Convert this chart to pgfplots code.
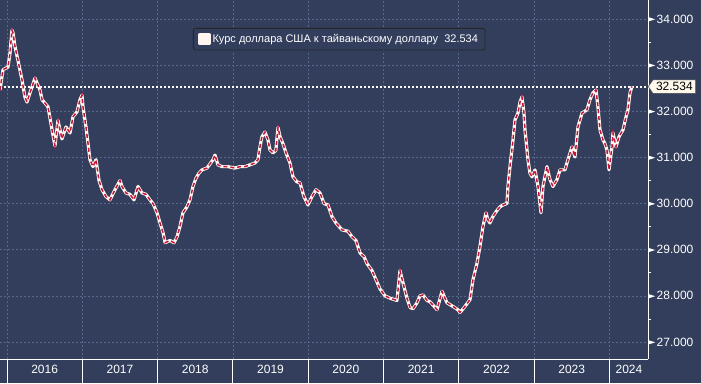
\documentclass[border=0pt]{standalone}
\usepackage{pgfplots}
\pgfplotsset{compat=1.18}
\usepackage{pgfplotstable}
\usepackage{fontspec}
\setmainfont{Liberation Sans}
\usetikzlibrary{shapes.symbols}
\definecolor{bg}{RGB}{50,62,92}
\definecolor{gridc}{RGB}{88,104,140}
\definecolor{candred}{RGB}{196,22,56}
\definecolor{candwhite}{RGB}{255,246,242}
\definecolor{tagfill}{RGB}{255,248,236}

\pgfplotstableread{
t v
2015.907 32.46
2015.947 32.90
2016.013 32.96
2016.040 33.26
2016.066 33.76
2016.080 33.70
2016.106 33.40
2016.146 33.10
2016.199 32.68
2016.239 32.30
2016.266 32.20
2016.305 32.40
2016.372 32.72
2016.438 32.46
2016.465 32.25
2016.544 32.10
2016.598 31.60
2016.637 31.25
2016.677 31.80
2016.730 31.40
2016.783 31.66
2016.837 31.53
2016.876 31.88
2016.930 31.99
2016.969 32.25
2016.996 32.35
2017.009 32.10
2017.049 31.66
2017.076 31.30
2017.102 30.95
2017.142 30.80
2017.182 30.95
2017.222 30.50
2017.262 30.30
2017.315 30.15
2017.368 30.08
2017.434 30.30
2017.501 30.50
2017.527 30.37
2017.580 30.23
2017.633 30.20
2017.687 30.08
2017.740 30.37
2017.793 30.23
2017.846 30.20
2017.899 30.08
2017.939 30.00
2017.992 29.80
2018.032 29.58
2018.072 29.37
2018.100 29.15
2018.165 29.20
2018.218 29.15
2018.258 29.28
2018.297 29.50
2018.337 29.80
2018.390 29.93
2018.430 30.08
2018.470 30.37
2018.510 30.55
2018.550 30.66
2018.590 30.73
2018.656 30.77
2018.736 30.95
2018.762 31.05
2018.802 30.84
2018.855 30.80
2018.935 30.80
2019.028 30.77
2019.094 30.80
2019.161 30.80
2019.227 30.84
2019.294 30.88
2019.333 30.95
2019.360 31.23
2019.386 31.45
2019.426 31.55
2019.466 31.38
2019.493 31.16
2019.533 31.10
2019.570 31.15
2019.599 31.65
2019.626 31.45
2019.665 31.30
2019.705 31.10
2019.758 30.88
2019.798 30.58
2019.851 30.47
2019.891 30.45
2019.944 30.15
2019.997 29.97
2020.050 30.15
2020.104 30.30
2020.157 30.23
2020.210 30.00
2020.263 29.97
2020.316 29.72
2020.369 29.58
2020.449 29.43
2020.529 29.40
2020.582 29.28
2020.635 29.20
2020.688 28.93
2020.741 28.85
2020.781 28.70
2020.847 28.55
2020.914 28.30
2020.954 28.15
2021.020 28.00
2021.086 27.95
2021.179 27.90
2021.219 28.55
2021.272 28.20
2021.312 27.95
2021.352 27.75
2021.392 27.72
2021.445 27.85
2021.485 28.00
2021.525 28.02
2021.578 27.90
2021.618 27.87
2021.658 27.80
2021.711 27.70
2021.777 28.10
2021.843 27.85
2021.923 27.77
2021.989 27.70
2022.016 27.64
2022.082 27.77
2022.149 27.92
2022.188 28.35
2022.241 28.70
2022.281 29.07
2022.321 29.50
2022.361 29.80
2022.387 29.65
2022.414 29.58
2022.454 29.72
2022.507 29.85
2022.547 29.93
2022.600 29.98
2022.640 30.00
2022.653 30.37
2022.680 30.80
2022.720 31.38
2022.746 31.81
2022.786 31.96
2022.813 32.20
2022.839 32.31
2022.866 31.96
2022.879 31.60
2022.906 31.16
2022.919 30.95
2022.945 30.66
2022.972 30.58
2023.012 30.73
2023.052 30.37
2023.092 29.80
2023.118 30.37
2023.171 30.80
2023.211 30.52
2023.251 30.37
2023.304 30.52
2023.344 30.73
2023.410 30.73
2023.450 30.95
2023.503 31.23
2023.543 31.01
2023.583 31.66
2023.636 31.96
2023.702 32.03
2023.742 32.25
2023.782 32.40
2023.822 32.46
2023.848 32.10
2023.875 31.60
2023.915 31.38
2023.941 31.30
2023.968 31.16
2023.995 30.73
2024.035 31.23
2024.048 31.53
2024.088 31.23
2024.128 31.45
2024.181 31.60
2024.221 31.88
2024.247 32.03
2024.274 32.40
2024.300 32.534
}\usd

\begin{document}
\begin{tikzpicture}
\fill[bg] (0,-24pt) rectangle (701pt,359pt);
\begin{axis}[
  at={(0,0)}, anchor=south west,
  scale only axis, width=648pt, height=359pt,
  xmin=2015.907, xmax=2024.513, ymin=26.632, ymax=34.411,
  axis x line*=bottom, axis y line*=right,
  axis line style={white, line width=0.8pt},
  clip mode=individual,
  /pgf/number format/assume math mode=true,
  tick align=outside,
  major tick length=0pt, minor tick length=3pt,
  xtick={2016.5,2017.5,2018.5,2019.5,2020.5,2021.5,2022.5,2023.5,2024.26},
  xticklabels={2016,2017,2018,2019,2020,2021,2022,2023,2024},
  xticklabel style={text=white, font=\fontsize{12}{14}\selectfont, yshift=-3pt},
  extra x ticks={2016,2017,2018,2019,2020,2021,2022,2023,2024},
  extra x tick labels={},
  extra x tick style={major tick length=24pt, grid=major, tick style={white, line width=0.8pt}},
  ytick={27,28,29,30,31,32,33,34},
  minor y tick num=1,
  ymajorgrids=true,
  grid style={gridc, line width=0.6pt, dash pattern=on 2pt off 2pt},
  every minor y tick/.append style={white, line width=0.8pt},
  yticklabel={\tikz[baseline=-0.6ex]\fill[white] (0,2.2pt)--(7pt,0)--(0,-2.2pt)--cycle;\hspace{1.5pt}\pgfmathprintnumber[fixed,fixed zerofill,precision=3,assume math mode=true]{\tick}},
  yticklabel style={anchor=west, inner xsep=0pt, text=white, font=\fontsize{12}{14}\selectfont},
  legend style={at={(rel axis cs:0.2978,0.9220)}, anchor=north west, draw=black!85, fill=bg,
    rounded corners=2pt, text=white, font=\fontsize{11}{13}\selectfont,
    inner xsep=5pt, inner ysep=4pt, line width=0.8pt},
  legend image code/.code={\fill[candwhite, sharp corners] (0pt,-4.5pt) rectangle (9pt,4.5pt);},
  legend cell align=left,
]
\addplot[white, line width=2pt, dash pattern=on 2pt off 2pt, forget plot]
  coordinates {(2015.907,32.534) (2024.513,32.534)};
\addplot[candwhite, line width=3.2pt, line join=round] table[x=t,y=v] {\usd};
\addlegendentry{Курс доллара США к тайваньскому доллару\ \ 32.534}
\addplot[candred, line width=1.5pt, dash pattern=on 4pt off 3pt, forget plot] table[x=t,y=v] {\usd};
\node[signal, signal to=west, signal pointer angle=110, fill=tagfill, draw=gray!60!black,
  line width=0.5pt, inner xsep=3pt, inner ysep=2.5pt, text=black,
  font=\fontsize{12}{14}\selectfont, anchor=west] at (axis cs:2024.513,32.534) {32.534};
\end{axis}
\pgfresetboundingbox
\useasboundingbox (0,-24pt) rectangle (701pt,359pt);
\end{tikzpicture}
\end{document}
